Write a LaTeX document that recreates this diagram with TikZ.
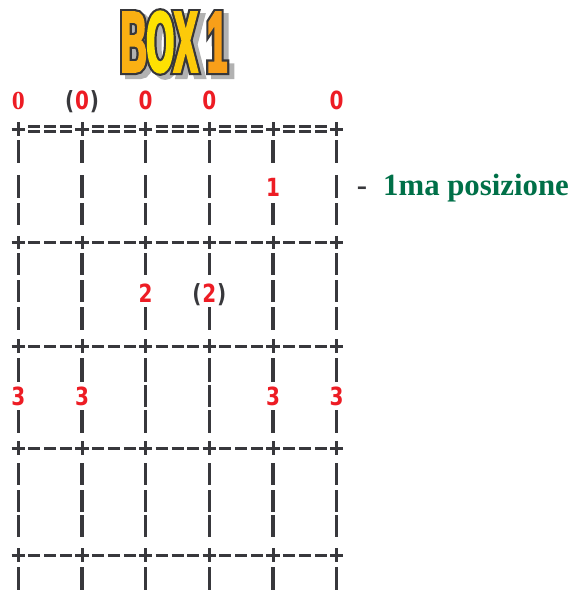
\documentclass[tikz,border=0pt]{standalone}
\usepackage{fontspec}
\usepackage{graphicx}
\setmainfont{Liberation Serif}
\newfontfamily\digitfont{DejaVu Sans}
\newfontfamily\titlefont{Liberation Sans}[FakeStretch=0.41]
\definecolor{inkc}{RGB}{56,56,60}
\definecolor{redc}{RGB}{237,28,36}
\definecolor{greenc}{RGB}{0,112,72}
\definecolor{orangeT}{RGB}{247,146,30}
\definecolor{yellowT}{RGB}{255,232,0}
\definecolor{shadowc}{RGB}{178,178,178}
\definecolor{outlinec}{RGB}{55,55,58}
\newcommand\dgt[1]{\scalebox{0.8}[1]{#1}}
\newcommand\strk[2]{\special{pdf:literal direct 2 Tr #1 w}#2\special{pdf:literal direct 0 Tr}}
\begin{document}
\begin{tikzpicture}[x=1pt,y=-1pt,
  bar/.style={draw=inkc,line width=3.2pt},
  crossmark/.style={draw=inkc,line width=3pt},
  dashmark/.style={draw=inkc,line width=3pt},
  eqmark/.style={draw=inkc,line width=2.4pt},
  dig/.style={inner sep=0pt,anchor=base,text=redc,font=\digitfont\bfseries\fontsize{25}{25}\selectfont},
  ttl/.style={inner sep=0pt,anchor=center,font=\titlefont\bfseries\fontsize{86}{86}\selectfont}]
\useasboundingbox (0,0) rectangle (575,590);

% ---------- title ----------
\node[ttl,text=shadowc] (tshadow) at (179,46) {\strk{6.8}{BOX 1}};
\node[ttl,text=outlinec] (toutline) at (174,42) {\strk{6.8}{BOX 1}};
\node[ttl] (title) at (174,42) {\strk{2.4}{\textcolor{yellowT!35!orangeT}{B}\textcolor{yellowT!92!orangeT}{O}\textcolor{yellowT!65!orangeT}{X} \textcolor{yellowT!15!orangeT}{1}}};

% ---------- grid ----------
\foreach \cx in {18.3,82.0,145.7,209.3,273.0,336.7}{
  \foreach \a/\b in {140/163,203/225,253/275,307/330,358/382,410/433,463/485,490/512,515/537,567/592}
    \draw[bar] (\cx,\a) -- (\cx,\b);
  \foreach \fy in {129,242.5,346,448,555}
    \draw[crossmark] (\cx-6.7,\fy) -- (\cx+6.7,\fy) (\cx,\fy-6.7) -- (\cx,\fy+6.7);
}
\foreach \cx in {18.3,82.0,145.7,209.3,336.7}
  \draw[bar] (\cx,175) -- (\cx,198);
\foreach \cx in {18.3,82.0,273.0,336.7}
  \draw[bar] (\cx,280) -- (\cx,302);
\foreach \cx in {145.7,209.3}
  \draw[bar] (\cx,385) -- (\cx,407);
\foreach \cx in {18.3,82.0,145.7,209.3,273.0}{
  \foreach \k in {15.92,31.84,47.76}{
    \foreach \fy in {242.5,346,448,555}
      \draw[dashmark] (\cx+\k-6,\fy) -- (\cx+\k+6,\fy);
    \draw[eqmark] (\cx+\k-6,126.4) -- (\cx+\k+6,126.4)
                  (\cx+\k-6,131.6) -- (\cx+\k+6,131.6);
  }
}

% ---------- numbers ----------
\node[dig,font=\rmfamily\bfseries\fontsize{26}{26}\selectfont] (z1) at (18.3,109) {0};
\node[dig] (z2) at (82.0,109) {\dgt{\textcolor{inkc}{(}\kern1pt0\kern1pt\textcolor{inkc}{)}}};
\node[dig] (z3) at (145.7,109) {\dgt{0}};
\node[dig] (z4) at (209.3,109) {\dgt{0}};
\node[dig] (z6) at (336.7,109) {\dgt{0}};
\node[dig] (f1) at (273.0,196) {\dgt{1}};
\node[dig] (f2a) at (145.7,302) {\dgt{2}};
\node[dig] (f2b) at (209.3,302) {\dgt{\textcolor{inkc}{(}\kern1pt2\kern1pt\textcolor{inkc}{)}}};
\node[dig] (f3a) at (18.3,405) {\dgt{3}};
\node[dig] (f3b) at (82.0,405) {\dgt{3}};
\node[dig] (f3c) at (273.0,405) {\dgt{3}};
\node[dig] (f3d) at (336.7,405) {\dgt{3}};

% ---------- side label ----------
\node[inner sep=0pt,anchor=base,text=inkc,font=\bfseries\fontsize{30.8}{31}\selectfont] (hy) at (362,195.5) {-};
\node[inner sep=0pt,anchor=base west,text=greenc,font=\bfseries\fontsize{30.8}{31}\selectfont] (pos) at (383,195.5) {1ma posizione};
\end{tikzpicture}
\end{document}
